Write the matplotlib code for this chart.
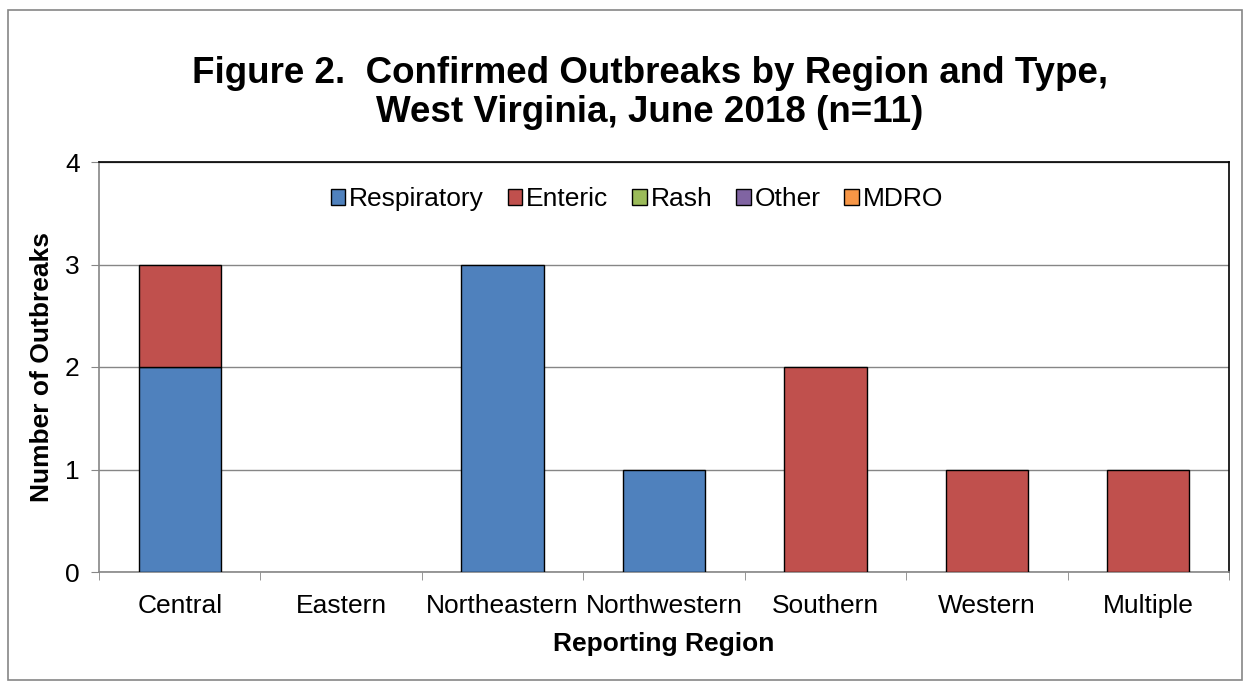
import numpy as np
import matplotlib
matplotlib.use('Agg')
import matplotlib.pyplot as plt
from matplotlib.patches import Rectangle

plt.rcParams['font.family'] = ['Liberation Sans', 'DejaVu Sans']

# ── data ──────────────────────────────────────────────────────
regions     = ['Central', 'Eastern', 'Northeastern', 'Northwestern',
               'Southern', 'Western', 'Multiple']
respiratory = [2, 0, 3, 1, 0, 0, 0]
enteric     = [1, 0, 0, 0, 2, 1, 1]
rash        = [0, 0, 0, 0, 0, 0, 0]
other       = [0, 0, 0, 0, 0, 0, 0]
mdro        = [0, 0, 0, 0, 0, 0, 0]

series = [('Respiratory', respiratory, '#4F81BD'),
          ('Enteric',     enteric,     '#C0504D'),
          ('Rash',        rash,        '#9BBB59'),
          ('Other',       other,       '#8064A2'),
          ('MDRO',        mdro,        '#F79646')]

# ── figure ────────────────────────────────────────────────────
fig = plt.figure(figsize=(12.52, 6.84), dpi=100)
fig.patches.append(Rectangle((8 / 1252, 1 - 680 / 684), 1234 / 1252, 670 / 684,
                             transform=fig.transFigure, fill=False,
                             edgecolor='#868686', lw=1.2))

ax = fig.add_axes([99 / 1252, 1 - 572 / 684, 1130 / 1252, 410 / 684])
x = np.arange(len(regions))
bottom = np.zeros(len(regions))
for name, vals, col in series:
    vals = np.array(vals, dtype=float)
    nz = vals > 0
    # legend proxy, then only the non-empty segments
    ax.bar([0], [0], width=0, color=col, edgecolor='black', linewidth=1.0,
           label=name)
    ax.bar(x[nz], vals[nz], width=0.51, bottom=bottom[nz], color=col,
           edgecolor='black', linewidth=1.0, zorder=3)
    bottom += vals

ax.set_xlim(-0.5, len(regions) - 0.5)
ax.set_ylim(0, 4)
ax.set_yticks(range(5))
ax.yaxis.grid(True, color='#868686', lw=1.0, zorder=0)

ax.set_xticks(x)
ax.set_xticklabels(regions, fontsize=19)
ax.set_xticks(np.arange(-0.5, len(regions)), minor=True)
ax.tick_params(axis='x', which='major', length=0, pad=16)
ax.tick_params(axis='x', which='minor', length=6, color='#868686', direction='out')
ax.tick_params(axis='y', length=6, color='#868686', direction='out',
               labelsize=19, pad=8)

ax.spines['left'].set_color('#868686')
ax.spines['bottom'].set_color('#868686')
ax.spines['top'].set_color('black')
ax.spines['right'].set_color('black')
for sp in ax.spines.values():
    sp.set_linewidth(1.2)

ax.set_xlabel('Reporting Region', fontsize=19, fontweight='bold', labelpad=10)
ax.set_ylabel('Number of Outbreaks', fontsize=19, fontweight='bold', labelpad=8)

ax.legend(loc='center', bbox_to_anchor=(0.476, 0.91), ncol=5,
          frameon=False, fontsize=19, handlelength=0.55, handleheight=0.55,
          handletextpad=0.15, columnspacing=0.9)

fig.text(0.519, 1 - 93 / 684,
         'Figure 2.  Confirmed Outbreaks by Region and Type,\nWest Virginia, June 2018 (n=11)',
         ha='center', va='center', fontsize=26.5, fontweight='bold', linespacing=1.15)

fig.savefig('out.png', dpi=100)
